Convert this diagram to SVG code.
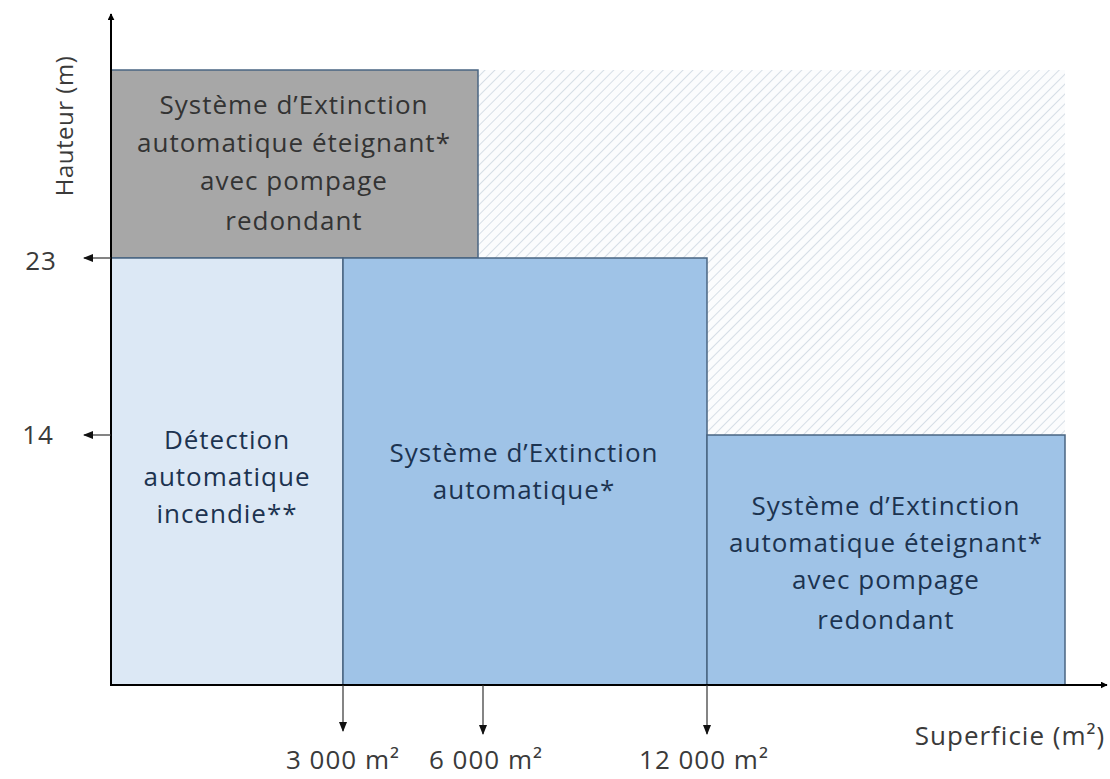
<svg xmlns="http://www.w3.org/2000/svg" width="1110" height="779" viewBox="0 0 1110 779">
<style>
text{font-family:"Open Sans","Liberation Sans",sans-serif;font-size:26px;text-anchor:middle;letter-spacing:1px}
.gt{fill:#333}
.bt{fill:#1c3350}
.ax{fill:#3a3a3a}
.box{stroke:#4a6582;stroke-width:1.5}
.axis{stroke:#000;stroke-width:2;fill:none}
.tick{stroke:#333;stroke-width:1.2;fill:none}
</style>
<defs>
<pattern id="hatch" patternUnits="userSpaceOnUse" width="7" height="7" patternTransform="rotate(45)">
<rect width="7" height="7" fill="#fbfcfd"/>
<line x1="0" y1="0" x2="0" y2="7" stroke="#d2dbe4" stroke-width="1.8"/>
</pattern>
<marker id="ah" viewBox="0 0 10 10" refX="9" refY="5" markerWidth="7" markerHeight="7" orient="auto-start-reverse" markerUnits="userSpaceOnUse">
<path d="M0,0 L10,5 L0,10 z" fill="#000"/>
</marker>
<marker id="ahs" viewBox="0 0 10 10" refX="9" refY="5" markerWidth="10" markerHeight="10" orient="auto" markerUnits="userSpaceOnUse">
<path d="M0,1 L10,5 L0,9 z" fill="#111"/>
</marker>
</defs>
<rect x="0" y="0" width="1110" height="779" fill="#fff"/>
<g id="hatched-zone">
<rect x="478" y="70" width="587" height="365" fill="url(#hatch)"/>
</g>
<g id="node-gray">
<rect class="box" x="111" y="70" width="367" height="188" fill="#a7a7a7"/>
<text class="gt" x="294" y="114">Système d’Extinction</text>
<text class="gt" x="294" y="152">automatique éteignant*</text>
<text class="gt" x="294" y="190">avec pompage</text>
<text class="gt" x="294" y="230">redondant</text>
</g>
<g id="node-detection">
<rect class="box" x="111" y="258" width="232" height="427" fill="#dce8f5"/>
<text class="bt" x="227" y="449">Détection</text>
<text class="bt" x="227" y="486">automatique</text>
<text class="bt" x="227" y="523">incendie**</text>
</g>
<g id="node-extinction">
<rect class="box" x="343" y="258" width="364" height="427" fill="#9fc3e7"/>
<text class="bt" x="524" y="462">Système d’Extinction</text>
<text class="bt" x="524" y="499">automatique*</text>
</g>
<g id="node-extinction-redondant">
<rect class="box" x="707" y="435" width="358" height="250" fill="#9fc3e7"/>
<text class="bt" x="886" y="515">Système d’Extinction</text>
<text class="bt" x="886" y="552">automatique éteignant*</text>
<text class="bt" x="886" y="589">avec pompage</text>
<text class="bt" x="886" y="629">redondant</text>
</g>
<g id="connectors">
<line class="axis" x1="111" y1="686" x2="111" y2="14" marker-end="url(#ah)"/>
<line class="axis" x1="110" y1="685" x2="1107" y2="685" marker-end="url(#ah)"/>
<line class="tick" x1="111" y1="258" x2="84" y2="258" marker-end="url(#ahs)"/>
<line class="tick" x1="111" y1="435" x2="84" y2="435" marker-end="url(#ahs)"/>
<line class="tick" x1="343" y1="685" x2="343" y2="731" marker-end="url(#ahs)"/>
<line class="tick" x1="483" y1="685" x2="483" y2="734" marker-end="url(#ahs)"/>
<line class="tick" x1="707" y1="685" x2="707" y2="734" marker-end="url(#ahs)"/>
</g>
<g id="labels">
<text class="ax" x="64" y="126" transform="rotate(-90 64 126)" dy="9" style="font-size:24px;letter-spacing:0.5px">Hauteur (m)</text>
<text class="ax" x="41" y="270">23</text>
<text class="ax" x="38" y="444">14</text>
<text class="ax" x="343" y="769">3 000 m²</text>
<text class="ax" x="486" y="769">6 000 m²</text>
<text class="ax" x="704" y="769">12 000 m²</text>
<text class="ax" x="1010" y="745">Superficie (m²)</text>
</g>
</svg>
